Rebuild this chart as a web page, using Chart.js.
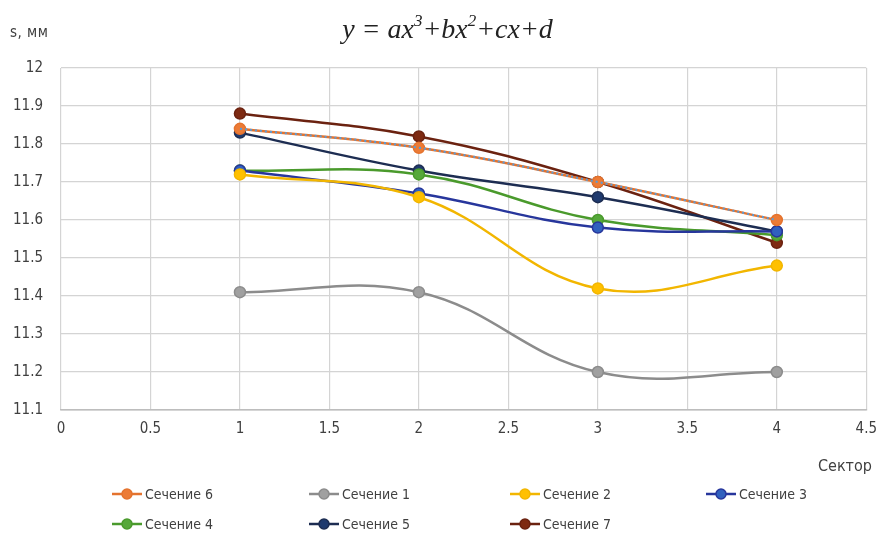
<!DOCTYPE html>
<html><head><meta charset="utf-8">
<script src="https://cdn.jsdelivr.net/npm/chart.js@4.4.1/dist/chart.umd.min.js"></script>
<style>
html,body{margin:0;padding:0;background:#fff;}
#wrap{position:relative;width:887px;height:536px;overflow:hidden;font-family:"DejaVu Sans Condensed","Liberation Sans Narrow",sans-serif;color:#404040;}
#c{position:absolute;left:0;top:0;}
.t{position:absolute;white-space:nowrap;}
#title{left:0;width:895px;top:13px;text-align:center;font-family:"Liberation Serif","DejaVu Serif",serif;font-style:italic;font-size:28px;color:#222;}
#title sup{font-size:17px;vertical-align:top;position:relative;top:-2px;}
#ylab{left:10px;top:23px;font-size:15px;letter-spacing:0.5px;}
#xlab{left:818px;top:456px;font-size:16px;}
.leg{position:absolute;display:flex;align-items:center;font-size:14px;color:#404040;}
.leg canvas{margin-right:2px;}
</style></head>
<body><div id="wrap">
<canvas id="c" width="887" height="536"></canvas>
<div id="title" class="t">y = ax<sup>3</sup>+bx<sup>2</sup>+cx+d</div>
<div id="ylab" class="t">s, мм</div>
<div id="xlab" class="t">Сектор</div>
<div id="legend"></div>
</div>
<script>
const sectors = [1, 2, 3, 4];
const names = ["Сечение 6","Сечение 1","Сечение 2","Сечение 3","Сечение 4","Сечение 5","Сечение 7"];
const s6 = [11.84, 11.79, 11.70, 11.60];
const s1 = [11.41, 11.41, 11.20, 11.20];
const s2 = [11.72, 11.66, 11.42, 11.48];
const s3 = [11.73, 11.67, 11.58, 11.57];
const s4 = [11.73, 11.72, 11.60, 11.56];
const s5 = [11.83, 11.73, 11.66, 11.57];
const s7 = [11.88, 11.82, 11.70, 11.54];
const xTicks = [0, 0.5, 1, 1.5, 2, 2.5, 3, 3.5, 4, 4.5];
const yTicks = [11.1, 11.2, 11.3, 11.4, 11.5, 11.6, 11.7, 11.8, 11.9, 12];

const series = [s6, s1, s2, s3, s4, s5, s7];
const lineColors = ["#E4732E","#8C8C8C","#F2B600","#27369C","#4A9A2C","#1D2D52","#6B2210"];
const pointColors = ["#EC7B36","#A0A0A0","#FFC000","#3060BE","#56A83A","#1F3A6E","#7E2A12"];
const order = [1,6,5,4,3,2,0];
const FONT = '"DejaVu Sans Condensed","Liberation Sans Narrow",sans-serif';

function pts(arr){ return sectors.map((x,i)=>({x:x,y:arr[i]})); }

const datasets = [];
series.forEach((arr,i)=>{
  datasets.push({
    label:names[i], data:pts(arr), borderColor:lineColors[i], backgroundColor:pointColors[i],
    pointBorderColor:lineColors[i], pointBackgroundColor:pointColors[i],
    borderWidth:2.5, pointRadius:5.5, pointBorderWidth:1.5, tension:0.4, fill:false,
    order: 10 - order.indexOf(i)
  });
});
datasets.push({label:"trend", data:pts(s6), borderColor:"#5B9BD5", borderWidth:2, borderDash:[2,3],
  pointRadius:0, tension:0.4, fill:false, order:0});

new Chart(document.getElementById('c'), {
  type:'line',
  data:{datasets:datasets},
  options:{
    responsive:false, animation:false, events:[],
    layout:{padding:{left:0,right:14,top:68,bottom:96}},
    plugins:{legend:{display:false},tooltip:{enabled:false}},
    scales:{
      x:{type:'linear', min:0, max:4.5,
        afterBuildTicks:(s)=>{s.ticks=xTicks.map(v=>({value:v}));},
        afterFit:(s)=>{s.height=30;},
        grid:{color:'#d4d4d4', lineWidth:1.2, drawTicks:false},
        border:{color:'#bdbdbd', width:1.5},
        ticks:{color:'#404040', font:{family:FONT, size:15}, padding:10, maxRotation:0,
          callback:(v)=>String(v)}
      },
      y:{type:'linear', min:11.1, max:12,
        afterBuildTicks:(s)=>{s.ticks=yTicks.map(v=>({value:v}));},
        afterFit:(s)=>{s.width=61;},
        grid:{color:(c)=>c.index===0?'#bdbdbd':'#d4d4d4', lineWidth:1.2, drawTicks:false},
        border:{display:false},
        ticks:{color:'#404040', font:{family:FONT, size:15}, padding:18,
          callback:(v)=>String(Math.round(v*10)/10)}
      }
    }
  }
});

const legPos = [[111,484],[308,484],[509,484],[705,484],[111,514],[308,514],[509,514]];
const leg = document.getElementById('legend');
names.forEach((n,i)=>{
  const d=document.createElement('div'); d.className='leg';
  d.style.left=legPos[i][0]+'px'; d.style.top=legPos[i][1]+'px';
  const cv=document.createElement('canvas'); cv.width=32; cv.height=20;
  const g=cv.getContext('2d');
  g.strokeStyle=lineColors[i]; g.lineWidth=2.5; g.beginPath(); g.moveTo(1,10); g.lineTo(31,10); g.stroke();
  g.fillStyle=pointColors[i]; g.beginPath(); g.arc(16,10,5,0,Math.PI*2); g.fill();
  g.lineWidth=1.5; g.stroke();
  d.appendChild(cv);
  const sp=document.createElement('span'); sp.textContent=n; d.appendChild(sp);
  leg.appendChild(d);
});
</script>
</body></html>
